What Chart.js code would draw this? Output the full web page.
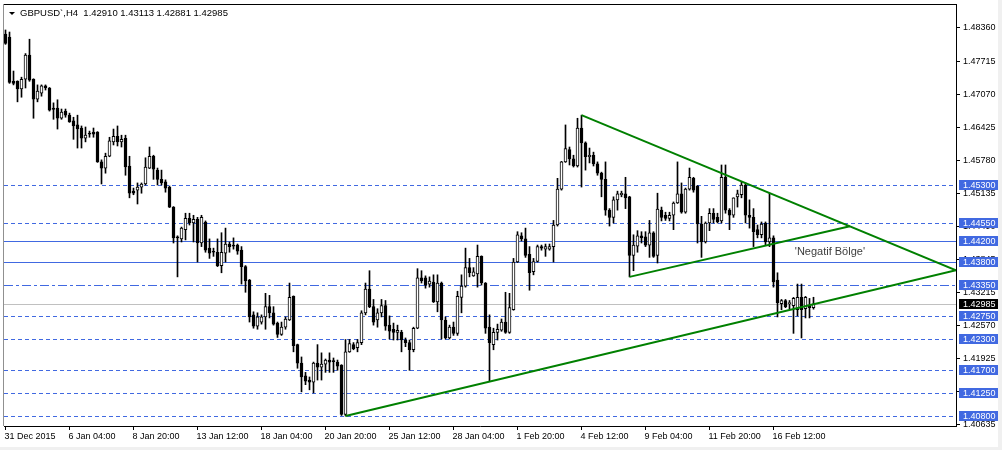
<!DOCTYPE html>
<html>
<head>
<meta charset="utf-8">
<script src="https://cdn.jsdelivr.net/npm/chart.js@4.4.1/dist/chart.umd.min.js"></script>
<style>
  html, body { margin: 0; padding: 0; background: #f0f0f0; }
  #wrap { position: absolute; left: 0; top: 0; width: 998px; height: 447px; background: #fff; }
</style>
</head>
<body>
<div id="wrap"><canvas id="chart" width="998" height="447"></canvas></div>
<script>
// GBPUSD H4, one value per candle (candle n sits at x = n)
const headerText = "GBPUSD`,H4  1.42910 1.43113 1.42881 1.42985";

const opens = [
  1.4824,1.4818,1.4732,1.4732,1.4717,1.4736,1.4783,1.4736,1.4697,1.4709,
  1.4723,1.4719,1.4680,1.4680,1.4660,1.4674,1.4666,1.4655,1.4647,1.4641,
  1.4621,1.4631,1.4633,1.4633,1.4575,1.4563,1.4586,1.4614,1.4625,1.4614,
  1.4621,1.4567,1.4518,1.4520,1.4526,1.4532,1.4563,1.4586,1.4559,1.4541,
  1.4536,1.4526,1.4487,1.4429,1.4425,1.4443,1.4465,1.4456,1.4463,1.4417,
  1.4458,1.4407,1.4401,1.4399,1.4373,1.4397,1.4415,1.4413,1.4413,1.4403,
  1.4371,1.4345,1.4277,1.4255,1.4263,1.4273,1.4293,1.4281,1.4261,1.4239,
  1.4253,1.4267,1.4313,1.4219,1.4183,1.4158,1.4150,1.4146,1.4183,1.4175,
  1.4181,1.4189,1.4187,1.4185,1.4179,1.4083,1.4205,1.4219,1.4213,1.4223,
  1.4281,1.4327,1.4293,1.4267,1.4281,1.4295,1.4257,1.4249,1.4243,1.4243,
  1.4228,1.4223,1.4209,1.4251,1.4349,1.4349,1.4337,1.4341,1.4302,1.4339,
  1.4267,1.4232,1.4253,1.4241,1.4311,1.4333,1.4369,1.4353,1.4357,1.4391,
  1.4339,1.4253,1.4219,1.4243,1.4247,1.4263,1.4243,1.4287,1.4380,1.4431,
  1.4425,1.4395,1.4361,1.4381,1.4410,1.4405,1.4405,1.4410,1.4452,1.4522,
  1.4575,1.4599,1.4581,1.4567,1.4641,1.4612,1.4585,1.4588,1.4571,1.4553,
  1.4541,1.4481,1.4467,1.4501,1.4511,1.4513,1.4507,1.4393,1.4411,1.4431,
  1.4429,1.4413,1.4437,1.4393,1.4481,1.4471,1.4465,1.4471,1.4495,1.4513,
  1.4477,1.4522,1.4543,1.4528,1.4454,1.4419,1.4456,1.4475,1.4467,1.4460,
  1.4545,1.4481,1.4471,1.4507,1.4511,1.4530,1.4471,1.4467,1.4443,1.4433,
  1.4456,1.4419,1.4427,1.4345,1.4299,1.4305,1.4299,1.4295,1.4287,1.4311,
  1.4289,1.4295,1.42910
];
const highs = [
  1.4832,1.4828,1.4752,1.4733,1.4740,1.4786,1.4814,1.4737,1.4725,1.4725,
  1.4725,1.4720,1.4690,1.4696,1.4678,1.4678,1.4670,1.4662,1.4666,1.4645,
  1.4643,1.4635,1.4641,1.4634,1.4579,1.4592,1.4623,1.4639,1.4645,1.4627,
  1.4627,1.4586,1.4524,1.4534,1.4534,1.4583,1.4604,1.4588,1.4563,1.4559,
  1.4540,1.4528,1.4488,1.4431,1.4448,1.4475,1.4475,1.4471,1.4467,1.4471,
  1.4460,1.4425,1.4407,1.4425,1.4437,1.4446,1.4419,1.4427,1.4415,1.4410,
  1.4373,1.4346,1.4283,1.4281,1.4277,1.4319,1.4315,1.4293,1.4263,1.4263,
  1.4273,1.4339,1.4314,1.4220,1.4195,1.4165,1.4156,1.4185,1.4219,1.4203,
  1.4191,1.4203,1.4193,1.4189,1.4180,1.4229,1.4229,1.4223,1.4229,1.4285,
  1.4339,1.4363,1.4307,1.4289,1.4307,1.4305,1.4275,1.4261,1.4257,1.4247,
  1.4232,1.4228,1.4253,1.4367,1.4363,1.4353,1.4351,1.4355,1.4355,1.4341,
  1.4273,1.4257,1.4263,1.4323,1.4355,1.4407,1.4387,1.4369,1.4413,1.4392,
  1.4340,1.4277,1.4251,1.4259,1.4269,1.4321,1.4319,1.4387,1.4439,1.4437,
  1.4446,1.4410,1.4387,1.4413,1.4413,1.4415,1.4415,1.4461,1.4543,1.4576,
  1.4647,1.4604,1.4588,1.4660,1.4666,1.4614,1.4602,1.4594,1.4575,1.4555,
  1.4575,1.4484,1.4507,1.4518,1.4518,1.4545,1.4508,1.4433,1.4441,1.4439,
  1.4439,1.4461,1.4439,1.4514,1.4487,1.4477,1.4477,1.4497,1.4575,1.4534,
  1.4524,1.4563,1.4545,1.4529,1.4469,1.4458,1.4484,1.4484,1.4475,1.4569,
  1.4569,1.4484,1.4505,1.4520,1.4536,1.4534,1.4501,1.4484,1.4452,1.4458,
  1.4458,1.4514,1.4431,1.4359,1.4307,1.4307,1.4305,1.4311,1.4337,1.4337,
  1.4313,1.4309,1.43113
];
const lows = [
  1.4804,1.4728,1.4725,1.4692,1.4701,1.4719,1.4732,1.4660,1.4692,1.4703,
  1.4715,1.4674,1.4658,1.4639,1.4658,1.4662,1.4652,1.4619,1.4602,1.4602,
  1.4614,1.4623,1.4623,1.4574,1.4532,1.4553,1.4585,1.4608,1.4606,1.4604,
  1.4549,1.4505,1.4511,1.4493,1.4514,1.4530,1.4562,1.4541,1.4530,1.4530,
  1.4516,1.4486,1.4417,1.4351,1.4419,1.4423,1.4452,1.4419,1.4380,1.4410,
  1.4399,1.4387,1.4391,1.4371,1.4359,1.4380,1.4399,1.4405,1.4395,1.4337,
  1.4321,1.4263,1.4251,1.4249,1.4259,1.4249,1.4271,1.4257,1.4233,1.4237,
  1.4249,1.4266,1.4205,1.4173,1.4127,1.4141,1.4131,1.4125,1.4150,1.4150,
  1.4165,1.4165,1.4165,1.4169,1.4081,1.4080,1.4204,1.4209,1.4205,1.4219,
  1.4277,1.4291,1.4257,1.4253,1.4273,1.4247,1.4230,1.4228,1.4228,1.4205,
  1.4215,1.4169,1.4205,1.4250,1.4339,1.4329,1.4331,1.4301,1.4283,1.4230,
  1.4230,1.4230,1.4237,1.4237,1.4281,1.4331,1.4351,1.4352,1.4331,1.4335,
  1.4241,1.4148,1.4209,1.4228,1.4245,1.4241,1.4241,1.4286,1.4379,1.4421,
  1.4389,1.4325,1.4355,1.4380,1.4403,1.4391,1.4403,1.4380,1.4450,1.4520,
  1.4574,1.4569,1.4565,1.4565,1.4526,1.4559,1.4573,1.4567,1.4549,1.4507,
  1.4471,1.4450,1.4456,1.4481,1.4507,1.4484,1.4351,1.4363,1.4399,1.4417,
  1.4410,1.4389,1.4389,1.4378,1.4460,1.4461,1.4460,1.4443,1.4494,1.4475,
  1.4475,1.4520,1.4516,1.4417,1.4389,1.4417,1.4441,1.4456,1.4456,1.4456,
  1.4475,1.4443,1.4467,1.4487,1.4505,1.4456,1.4446,1.4410,1.4427,1.4427,
  1.4413,1.4410,1.4331,1.4273,1.4287,1.4291,1.4289,1.4241,1.4275,1.4232,
  1.4271,1.4271,1.42881
];
const closes = [
  1.4806,1.4730,1.4728,1.4717,1.4736,1.4783,1.4734,1.4697,1.4713,1.4723,
  1.4719,1.4676,1.4677,1.4660,1.4672,1.4666,1.4653,1.4645,1.4639,1.4621,
  1.4627,1.4629,1.4629,1.4575,1.4563,1.4586,1.4616,1.4625,1.4614,1.4619,
  1.4565,1.4514,1.4514,1.4526,1.4532,1.4565,1.4586,1.4561,1.4541,1.4534,
  1.4524,1.4487,1.4427,1.4427,1.4446,1.4465,1.4456,1.4463,1.4417,1.4467,
  1.4403,1.4397,1.4399,1.4373,1.4399,1.4415,1.4410,1.4411,1.4401,1.4371,
  1.4343,1.4273,1.4255,1.4273,1.4273,1.4293,1.4281,1.4259,1.4239,1.4253,
  1.4269,1.4311,1.4217,1.4183,1.4156,1.4148,1.4146,1.4183,1.4175,1.4181,
  1.4189,1.4185,1.4186,1.4177,1.4083,1.4205,1.4221,1.4211,1.4223,1.4281,
  1.4327,1.4293,1.4263,1.4281,1.4295,1.4255,1.4245,1.4243,1.4247,1.4228,
  1.4223,1.4209,1.4251,1.4349,1.4343,1.4335,1.4343,1.4302,1.4339,1.4267,
  1.4232,1.4253,1.4241,1.4313,1.4333,1.4369,1.4359,1.4361,1.4391,1.4339,
  1.4251,1.4223,1.4243,1.4249,1.4263,1.4243,1.4291,1.4380,1.4433,1.4425,
  1.4393,1.4359,1.4381,1.4410,1.4407,1.4410,1.4410,1.4452,1.4522,1.4575,
  1.4601,1.4581,1.4567,1.4641,1.4612,1.4585,1.4588,1.4571,1.4553,1.4541,
  1.4481,1.4467,1.4501,1.4513,1.4514,1.4505,1.4393,1.4413,1.4431,1.4427,
  1.4413,1.4437,1.4391,1.4483,1.4467,1.4465,1.4471,1.4495,1.4513,1.4477,
  1.4522,1.4545,1.4520,1.4454,1.4419,1.4456,1.4475,1.4463,1.4458,1.4545,
  1.4481,1.4471,1.4505,1.4513,1.4530,1.4471,1.4467,1.4439,1.4433,1.4454,
  1.4419,1.4427,1.4341,1.4301,1.4305,1.4293,1.4301,1.4309,1.4311,1.4287,
  1.4311,1.4291,1.42985
];

// time axis: candle numbers that carry a label
const timeTicks = [1, 17, 33, 49, 65, 81, 97, 113, 129, 145, 161, 177, 193];
const timeLabels = ['31 Dec 2015', '6 Jan 04:00', '8 Jan 20:00', '13 Jan 12:00', '18 Jan 04:00',
  '20 Jan 20:00', '25 Jan 12:00', '28 Jan 04:00', '1 Feb 20:00', '4 Feb 12:00',
  '9 Feb 04:00', '11 Feb 20:00', '16 Feb 12:00'];

// price scale labels as printed by the terminal
const priceTicks = [1.48360, 1.47715, 1.47070, 1.46425, 1.45780, 1.45135, 1.44490,
  1.43845, 1.43215, 1.42570, 1.41925, 1.41280, 1.40635];

// horizontal levels
const levelPrices = [1.4530, 1.4455, 1.4420, 1.4380, 1.4335, 1.4275, 1.4230, 1.4170, 1.4125, 1.4080];
const levelKinds = ['dash', 'dash', 'solid', 'solid', 'dashdot', 'dash', 'dash', 'dash', 'dash', 'dash'];
const lastPrice = 1.42985;

// trend lines: [candle, price] -> [candle, price]
const trendStart = [[86, 1.4080], [145, 1.4666], [157, 1.4351]];
const trendEnd = [[238.625, 1.4364], [238.625, 1.4364], [212.1, 1.44495]];

const noteText = "'Negatif Bölge'";
const notePoint = [207.1, 1.4400];

const BLUE = 'rgb(65,105,225)';
const GREEN = '#008000';
const FONT = '"Liberation Sans", Arial, sans-serif';
const xMin = 0.625, xMax = 238.625;
const yMin = 1.40605, yMax = 1.48826;

const idx = opens.map((_, i) => i + 1);

const datasets = [];

// wicks
datasets.push({
  type: 'bar',
  data: idx.map((x, i) => ({ x: x, y: [lows[i], highs[i]] })),
  backgroundColor: '#000',
  barThickness: 1,
  grouped: false,
  order: 3
});
// bodies
datasets.push({
  type: 'bar',
  data: idx.map((x, i) => ({ x: x, y: [opens[i], closes[i]] })),
  backgroundColor: idx.map((x, i) => closes[i] >= opens[i] ? '#fff' : '#000'),
  borderColor: '#000',
  borderWidth: 1,
  borderSkipped: false,
  barThickness: 3,
  minBarLength: 1,
  grouped: false,
  order: 2
});

trendStart.forEach((s, i) => {
  datasets.push({
    type: 'line',
    data: [{ x: s[0], y: s[1] }, { x: trendEnd[i][0], y: trendEnd[i][1] }],
    borderColor: GREEN,
    borderWidth: 2,
    pointRadius: 0,
    order: 1
  });
});

const mtPlugin = {
  id: 'mt',
  // horizontal levels, snapped to whole pixels through the price scale
  beforeDatasetsDraw(chart) {
    const { ctx, chartArea: a, scales } = chart;
    const y = scales.y;
    ctx.save();
    ctx.lineWidth = 1;
    const hline = (p, color, dash) => {
      const py = Math.round(y.getPixelForValue(p)) + 0.5;
      ctx.strokeStyle = color;
      ctx.setLineDash(dash);
      ctx.beginPath();
      ctx.moveTo(a.left, py);
      ctx.lineTo(a.right, py);
      ctx.stroke();
    };
    levelPrices.forEach((p, i) => {
      const kind = levelKinds[i];
      hline(p, BLUE, kind === 'dash' ? [4, 3] : kind === 'dashdot' ? [9, 3, 3, 3] : []);
    });
    hline(lastPrice, '#c0c0c0', []);
    ctx.restore();
  },
  afterDatasetsDraw(chart) {
    const { ctx, scales } = chart;
    ctx.save();
    ctx.font = '11px ' + FONT;
    ctx.fillStyle = '#3c3c3c';
    ctx.textAlign = 'center';
    ctx.textBaseline = 'middle';
    ctx.fillText(noteText, scales.x.getPixelForValue(notePoint[0]), scales.y.getPixelForValue(notePoint[1]));
    ctx.restore();
  },
  afterDraw(chart) {
    const { ctx, chartArea: a, scales } = chart;
    const y = scales.y;
    ctx.save();
    // frame top/left
    ctx.strokeStyle = '#000';
    ctx.lineWidth = 1;
    ctx.beginPath();
    ctx.moveTo(a.left, a.top + 0.5);
    ctx.lineTo(a.right, a.top + 0.5);
    ctx.stroke();
    ctx.strokeStyle = '#909090';
    ctx.beginPath();
    ctx.moveTo(a.left - 0.5, a.top);
    ctx.lineTo(a.left - 0.5, a.bottom);
    ctx.stroke();

    // header
    ctx.fillStyle = '#000';
    ctx.beginPath();
    ctx.moveTo(9, 12);
    ctx.lineTo(15, 12);
    ctx.lineTo(12, 15);
    ctx.closePath();
    ctx.fill();
    ctx.font = '9.5px ' + FONT;
    ctx.textBaseline = 'middle';
    ctx.textAlign = 'left';
    ctx.fillText(headerText, 20, 13);

    // level price tags on the scale
    ctx.font = '9px ' + FONT;
    const tag = (p, bg) => {
      const py = Math.round(y.getPixelForValue(p)) + 0.5;
      ctx.fillStyle = bg;
      ctx.fillRect(a.right + 3, py - 5.5, 60, 10);
      ctx.fillStyle = '#fff';
      ctx.fillText(p.toFixed(5), a.right + 7, py);
    };
    levelPrices.forEach(p => tag(p, BLUE));
    tag(lastPrice, '#000');
    ctx.restore();
  }
};

new Chart(document.getElementById('chart'), {
  type: 'bar',
  data: { datasets },
  options: {
    responsive: false,
    animation: false,
    events: [],
    layout: { padding: { left: 4, top: 4, right: 0, bottom: 0 } },
    plugins: { legend: { display: false }, tooltip: { enabled: false } },
    scales: {
      x: {
        type: 'linear',
        min: xMin,
        max: xMax,
        offset: false,
        grid: { drawOnChartArea: false, offset: false, tickLength: 4, color: '#000' },
        border: { color: '#000' },
        ticks: {
          autoSkip: false,
          maxRotation: 0,
          align: 'start',
          labelOffset: -1,
          padding: 1,
          color: '#000',
          font: { family: FONT, size: 9 },
          callback: v => {
            const k = timeTicks.indexOf(v);
            return k >= 0 ? timeLabels[k] : '';
          }
        },
        afterBuildTicks: s => { s.ticks = timeTicks.map(v => ({ value: v })); },
        afterFit: s => { s.height = 21; s.paddingLeft = 0; s.paddingRight = 0; }
      },
      y: {
        type: 'linear',
        position: 'right',
        min: yMin,
        max: yMax,
        grid: { drawOnChartArea: false, tickLength: 4, color: '#000' },
        border: { color: '#000' },
        ticks: {
          padding: 3,
          color: '#000',
          font: { family: FONT, size: 9 },
          callback: v => v.toFixed(5)
        },
        afterBuildTicks: s => { s.ticks = priceTicks.map(v => ({ value: v })); },
        afterFit: s => { s.width = 42; s.paddingTop = 0; s.paddingBottom = 0; }
      }
    }
  },
  plugins: [mtPlugin]
});
</script>
</body>
</html>
